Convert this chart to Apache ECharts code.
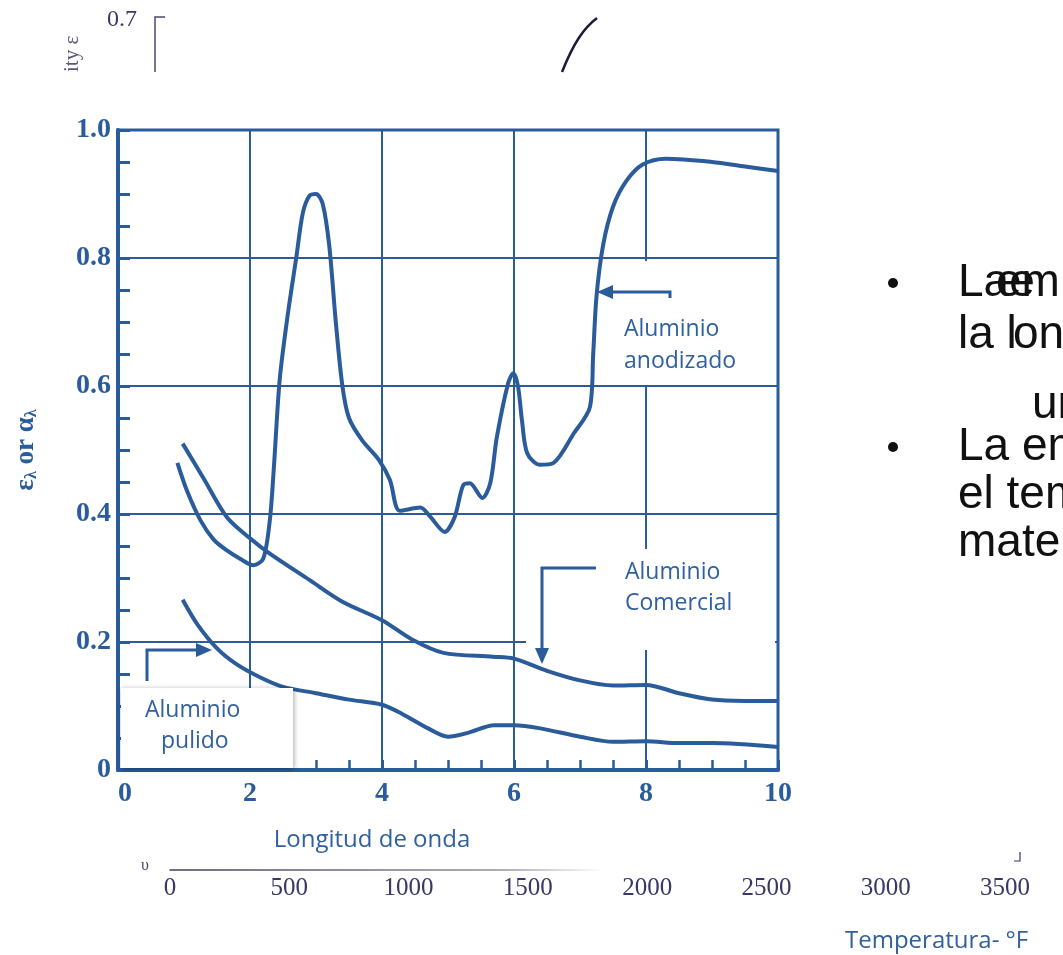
<!DOCTYPE html>
<html>
<head>
<meta charset="utf-8">
<script src="https://cdn.jsdelivr.net/npm/echarts@6/dist/echarts.min.js"></script>
<style>
  html, body { margin: 0; padding: 0; background: #fff; }
  #main { width: 1063px; height: 955px; }
</style>
</head>
<body>
<div id="main"></div>
<script>
// emisividad vs longitud de onda (um) -- tres acabados de aluminio
const anodizado = [
  [0.9, 0.48], [1.05, 0.435], [1.25, 0.39], [1.45, 0.36], [1.65, 0.343], [1.85, 0.33],
  [2.05, 0.32], [2.2, 0.33], [2.3, 0.39], [2.36, 0.47], [2.45, 0.61], [2.57, 0.71],
  [2.7, 0.8], [2.8, 0.87], [2.9, 0.897], [3.0, 0.9], [3.1, 0.885], [3.2, 0.82],
  [3.3, 0.7], [3.4, 0.6], [3.5, 0.55], [3.7, 0.515], [3.95, 0.485], [4.12, 0.453],
  [4.27, 0.405], [4.58, 0.41], [4.73, 0.396], [4.95, 0.372], [5.1, 0.395], [5.23, 0.445],
  [5.33, 0.448], [5.52, 0.425], [5.64, 0.448], [5.74, 0.52], [5.91, 0.604], [5.99, 0.62],
  [6.06, 0.6], [6.12, 0.547], [6.2, 0.495], [6.39, 0.477], [6.6, 0.48], [6.9, 0.525],
  [7.15, 0.567], [7.2, 0.65], [7.25, 0.74], [7.35, 0.82], [7.5, 0.88], [7.7, 0.92],
  [7.95, 0.946], [8.3, 0.955], [9.0, 0.95], [9.5, 0.943], [10, 0.936]
];
const comercial = [
  [0.98, 0.51], [1.3, 0.455], [1.65, 0.395], [2.0, 0.362], [2.3, 0.338], [2.9, 0.297],
  [3.4, 0.263], [4.0, 0.234], [4.47, 0.203], [4.93, 0.183], [5.68, 0.177], [6.0, 0.174],
  [6.5, 0.155], [7.0, 0.14], [7.5, 0.132], [8.0, 0.133], [8.5, 0.12], [9.0, 0.11],
  [9.5, 0.108], [10, 0.108]
];
const pulido = [
  [0.98, 0.266], [1.2, 0.228], [1.5, 0.19], [1.8, 0.165], [2.15, 0.145], [2.5, 0.13],
  [3.0, 0.12], [3.5, 0.11], [4.0, 0.102], [4.3, 0.088], [4.7, 0.065], [5.0, 0.052],
  [5.3, 0.058], [5.7, 0.07], [6.0, 0.07], [6.4, 0.065], [7.0, 0.052], [7.5, 0.044],
  [8.0, 0.045], [8.5, 0.042], [9.0, 0.042], [10, 0.036]
];
const tempTicks = [0, 500, 1000, 1500, 2000, 2500, 3000, 3500];

const BLUE = '#2a5b9b';
const TXT = '#30609f';
const SANS = '"Open Sans", "Noto Sans", sans-serif';

let myChart = echarts.init(document.getElementById('main'));

function curve(name, data) {
  return {
    name: name,
    type: 'line',
    data: data,
    xAxisIndex: 0,
    yAxisIndex: 0,
    smooth: 0.3,
    showSymbol: false,
    lineStyle: { color: BLUE, width: 4 },
    z: 5
  };
}

// flechas y cajas (graphic)
function arrowHead(tip, dir) {
  let pts;
  if (dir === 'right') pts = [[tip[0], tip[1]], [tip[0] - 16, tip[1] - 7], [tip[0] - 16, tip[1] + 7]];
  else if (dir === 'left') pts = [[tip[0], tip[1]], [tip[0] + 16, tip[1] - 7], [tip[0] + 16, tip[1] + 7]];
  else pts = [[tip[0], tip[1]], [tip[0] - 7, tip[1] - 16], [tip[0] + 7, tip[1] - 16]];
  return { type: 'polygon', shape: { points: pts }, style: { fill: BLUE }, z: 120 };
}
function seg(points, w) {
  return { type: 'polyline', shape: { points: points }, style: { stroke: BLUE, lineWidth: w || 3, fill: null }, z: 120 };
}
function box(x, y, w, h, shadow) {
  return {
    type: 'rect', shape: { x: x, y: y, width: w, height: h },
    style: shadow ? { fill: '#fff', shadowBlur: 5, shadowColor: 'rgba(0,0,0,0.35)', shadowOffsetX: 1, shadowOffsetY: 1 } : { fill: '#fff' },
    z: 100
  };
}
function label(x, y, txt) {
  return {
    type: 'text', x: x, y: y, z: 130,
    style: { text: txt, fill: TXT, font: '23px ' + SANS, verticalAlign: 'middle' }
  };
}
function bigText(x, y, txt) {
  return {
    type: 'text', x: x, y: y, z: 130,
    style: { text: txt, fill: '#111', font: '46px "Liberation Sans", Arial, sans-serif', verticalAlign: 'middle' }
  };
}

let option = {
  animation: false,
  backgroundColor: '#fff',
  grid: [
    { left: 118, top: 130, width: 660, height: 640, show: true, borderColor: BLUE, borderWidth: 3 },
    { left: 170, top: 868, width: 835, height: 2 }
  ],
  xAxis: [
    {
      gridIndex: 0, type: 'value', min: 0, max: 10, interval: 2,
      name: 'Longitud de onda', nameLocation: 'middle', nameGap: 58,
      nameTextStyle: { color: TXT, fontFamily: SANS, fontSize: 24, padding: [0, 152, 0, 0] },
      axisLine: { onZero: false, lineStyle: { color: BLUE, width: 4 } },
      axisTick: { inside: true, length: 10, lineStyle: { color: BLUE, width: 3 } },
      minorTick: { show: true, splitNumber: 4, length: 10, lineStyle: { color: BLUE, width: 2.5 } },
      splitLine: { show: true, lineStyle: { color: BLUE, width: 2 } },
      axisLabel: {
        color: BLUE, fontFamily: '"Liberation Serif", serif', fontWeight: 'bold', fontSize: 28, margin: 10,
        alignMinLabel: 'left'
      }
    },
    {
      gridIndex: 1, type: 'value', min: 0, max: 3500, interval: 500,
      axisLine: {
        lineStyle: {
          width: 1.5,
          color: new echarts.graphic.LinearGradient(0, 0, 1, 0, [
            { offset: 0, color: 'rgba(40,40,70,0.9)' },
            { offset: 0.4, color: 'rgba(40,40,70,0.5)' },
            { offset: 0.52, color: 'rgba(40,40,70,0)' },
            { offset: 1, color: 'rgba(40,40,70,0)' }
          ])
        }
      },
      axisTick: { show: false },
      splitLine: { show: false },
      axisLabel: {
        color: '#3a3766', fontFamily: '"Liberation Serif", serif', fontSize: 25, margin: 6,
        formatter: function (v) { return tempTicks.indexOf(v) >= 0 ? String(v) : ''; }
      }
    }
  ],
  yAxis: [
    {
      gridIndex: 0, type: 'value', min: 0, max: 1, interval: 0.2,
      name: '{e|ε}{s|λ}{e| or α}{s|λ}', nameLocation: 'middle', nameGap: 78, nameRotate: 90,
      nameTextStyle: {
        rich: {
          e: { color: BLUE, fontFamily: '"Liberation Serif", serif', fontWeight: 'bold', fontSize: 27 },
          s: { color: BLUE, fontFamily: '"Liberation Serif", serif', fontWeight: 'bold', fontSize: 16, padding: [10, 0, 0, 0] }
        }
      },
      axisLine: { lineStyle: { color: BLUE, width: 4 } },
      axisTick: { inside: true, length: 12, lineStyle: { color: BLUE, width: 3 } },
      minorTick: { show: true, splitNumber: 4, length: 12, lineStyle: { color: BLUE, width: 3 } },
      splitLine: { show: true, lineStyle: { color: BLUE, width: 2 } },
      axisLabel: {
        color: BLUE, fontFamily: '"Liberation Serif", serif', fontWeight: 'bold', fontSize: 28, margin: 7,
        formatter: function (v) { return v === 0 ? '0' : v.toFixed(1); }
      }
    },
    { gridIndex: 1, type: 'value', show: false }
  ],
  series: [
    curve('Aluminio anodizado', anodizado),
    curve('Aluminio comercial', comercial),
    curve('Aluminio pulido', pulido)
  ],
  graphic: [
    // fragmentos de la figura superior
    { type: 'text', x: 107, y: 20, style: { text: '0.7', fill: '#3a3766', font: '24px "Liberation Serif", serif', verticalAlign: 'middle' } },
    { type: 'polyline', shape: { points: [[165, 17], [155, 17], [155, 72]] }, style: { stroke: '#4a4a6a', lineWidth: 1.5, fill: null } },
    { type: 'text', x: 72, y: 72, rotation: Math.PI / 2, style: { text: 'ity ε', fill: '#5a5a7a', font: '21px "Liberation Serif", serif', verticalAlign: 'middle' } },
    { type: 'bezierCurve', shape: { x1: 562, y1: 72, x2: 597, y2: 18, cpx1: 574, cpy1: 42, cpx2: 584, cpy2: 28 }, style: { stroke: '#1c1c3a', lineWidth: 2.5, fill: null } },
    { type: 'text', x: 141, y: 866, style: { text: 'υ', fill: '#4a4a6a', font: '16px "Liberation Serif", serif', verticalAlign: 'middle' } },

    // cajas de etiqueta
    box(603, 261, 172, 124, false),
    box(526, 549, 249, 101, false),
    box(121, 688, 172, 80, true),

    label(624, 329, 'Aluminio'),
    label(624, 361, 'anodizado'),
    label(625, 572, 'Aluminio'),
    label(625, 603, 'Comercial'),
    label(145, 710, 'Aluminio'),
    label(161, 741, 'pulido'),

    seg([[670, 298], [670, 292], [610, 292]]),
    arrowHead([597, 292], 'left'),
    seg([[596, 568], [542, 568], [542, 650]]),
    arrowHead([542, 664], 'down'),
    seg([[147, 681], [147, 650], [198, 650]]),
    arrowHead([212, 650], 'right'),

    { type: 'text', x: 845, y: 941, style: { text: 'Temperatura- °F', fill: TXT, font: '24px ' + SANS, verticalAlign: 'middle' } },
    { type: 'polyline', shape: { points: [[1020, 852], [1020, 861], [1014, 861]] }, style: { stroke: '#3a3766', lineWidth: 1.2, fill: null } },

    // texto de la diapositiva (cortado)
    { type: 'circle', shape: { cx: 893, cy: 283, r: 5 }, style: { fill: '#111' } },
    bigText(958, 283, 'Lae'),
    bigText(996, 283, 'em'),
    bigText(958, 335, 'la l'),
    bigText(1013, 335, 'on'),
    bigText(1032, 405, 'un'),
    { type: 'circle', shape: { cx: 893, cy: 447, r: 5 }, style: { fill: '#111' } },
    bigText(958, 447, 'La em'),
    bigText(958, 495, 'el temp'),
    bigText(958, 543, 'materia')
  ]
};

myChart.setOption(option);

window.addEventListener('resize', () => {
  myChart.resize();
});
</script>
</body>
</html>
